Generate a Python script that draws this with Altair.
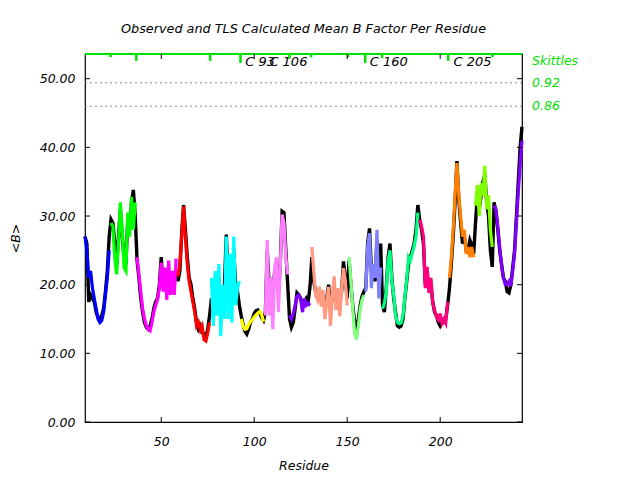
import altair as alt
import pandas as pd

FONT = "DejaVu Sans"

first_res = 9

observed = [
    27, 26, 17.5, 18.5, 18, 17.5, 16, 15.2, 15, 15.5, 16.5, 19, 22, 27,
    29.5, 29, 26, 23, 27, 31, 27, 24, 23, 29.5, 28, 32, 33.8, 30,
    23.5, 21, 18, 16, 14.5, 13.8, 13.5, 14, 15, 16.5, 17.5, 18, 20, 24, 19.5, 21, 19, 22, 20, 21, 20.5, 22,
    20.5, 22, 27.5, 31.6, 28, 24, 21, 20, 18, 16.5, 14.5, 13.5, 14, 13, 12.8, 12.5, 13.5, 15.5,
    18, 17, 20, 18, 21, 17, 19.5, 20, 27.3, 20, 23, 19, 25, 20, 19, 17,
    15.5, 14.2, 13.2, 12.8, 13.5, 14.5, 15, 15.8, 16.2, 16.3, 15.8, 15.2, 14.8,
    16, 25, 20, 21, 18, 22, 23, 18.5, 23, 30.7, 30.5, 25, 20,
    15, 13.8, 14.5, 16.5, 18.8, 18.5, 18, 17, 17.5, 18, 17.5, 19.7,
    24, 20.5, 19, 18.5, 18.5, 18, 18, 17, 18, 20, 17, 18, 19, 18, 19, 17.5, 19, 23.4, 21, 18,
    23.5, 20, 17, 14.5, 13.9, 15, 17, 18.3, 19,
    19.5, 26, 28.2, 22, 21.5, 20.5, 26.5, 20, 26,
    17, 16, 19.5, 24, 26, 21, 18, 16, 14, 13.8, 14, 15, 18, 20.5, 23, 24, 25, 26, 28, 31.6,
    29.4, 28, 26, 20, 21.5, 19.5, 20, 17.5, 16, 15.5, 14.5, 14, 14.5, 14.5, 15, 17,
    19.5, 23, 27, 32, 38, 32.5, 29, 26, 27, 25, 25, 26.5, 25.8, 24.5,
    29, 33, 31, 33, 35, 36, 32, 30, 25, 22.6,
    32, 30.5, 28, 25, 23, 21, 20.5, 19, 18.8, 20, 22.5, 25, 30, 35, 40, 43,
]

tls_calc = [
    27, 25, 21, 22, 19.5, 18, 16.5, 15, 14.5, 14.8, 16, 18.5, 21, 25,
    29, 28.5, 24, 21.5, 26, 32, 28, 22.5, 22, 30.5, 27, 32.8, 28, 32,
    24, 21.5, 19, 16.5, 15, 14, 13.5, 13.3, 14.5, 16, 17, 17.8, 19.5, 23.2, 19, 22.5, 17.8, 23.5, 18.5, 22, 18.5, 23.8,
    21.2, 23, 27, 31.4, 27, 23, 20.5, 19, 17.5, 16, 14, 14.5, 13.4, 14, 12, 11.8, 13, 14.5,
    21, 14, 22, 15.5, 23, 12.5, 20, 15, 27, 15, 24.5, 14.5, 27, 17, 19.5, 20.5,
    15, 14, 13.5, 13.6, 14.2, 14.6, 14.9, 15.3, 15.6, 15.9, 16.1, 15.6, 14.6,
    15.5, 26.5, 15.5, 21, 13.5, 22.5, 24, 16, 22.6, 30.2, 29, 24, 21.5,
    15.5, 15, 15.8, 17, 18.3, 18.5, 17.8, 16, 18, 17, 17.3, 17,
    25.5, 22, 18.5, 17.8, 19.7, 16.8, 19.2, 15, 17.5, 19.7, 14, 18.3, 21.2, 16.3, 19.5, 15.4, 19.2, 22.4, 20.5, 17,
    24, 20.5, 16.5, 13, 12, 14, 16.5, 17.8, 18.5,
    19, 25.5, 27.5, 19.5, 23, 21, 28, 18, 22.5,
    16.5, 17.3, 19, 23.5, 25, 20.5, 18.5, 15.5, 14.5, 14.3, 14.4, 15.5, 18.2, 20.7, 24, 23.5, 24.6, 25.6, 27, 30.5,
    29.5, 28.5, 27, 19.5, 22.6, 18.8, 21, 17.3, 16.3, 15.3, 14.9, 15.8, 14.4, 15, 14.4, 17.5,
    21, 24, 28, 33, 37.7, 33, 30, 27, 28, 24.5, 25.5, 24, 25.5, 24,
    31.5, 34.5, 30, 34.8, 33, 37.3, 31, 33, 28, 25.5,
    31.5, 31, 28.5, 25.5, 22.8, 21, 20, 20, 20.5, 19.8, 22, 24.5, 29, 33.5, 37.5, 41,
]

group_names = ["g01", "g02", "g03", "g04", "g05", "g06", "g07", "g08",
               "g09", "g10", "g11", "g12", "g13", "g14", "g15", "g16"]
group_starts = [9, 23, 37, 59, 77, 93, 106, 119, 131, 151, 160, 169, 189, 205, 219, 229]
group_colors = ["#0000ff", "#00ff00", "#ff00ff", "#ff0000", "#00ffff", "#ffff00",
                "#ff80ff", "#8000ff", "#ff9980", "#80ff80", "#8080ff", "#00ff80",
                "#ff0080", "#ff8000", "#80ff00", "#8000ff"]

rug_res = [22.7, 36.6, 58.6, 76.3, 92.6, 119, 130.6, 150.5, 159.7, 168.8, 188.9, 204.3, 228.1]
rug_depth = [0.45, 1.0, 0.15, 1.0, 1.3, 0.7, 0.45, 0.45, 1.3, 0.6, 0.15, 1.0, 0.45]

cys_res = [93, 106, 160, 205]
cys_labels = ["C 93", "C 106", "C 160", "C 205"]
cys_level = 52.5

ref_values = [49.4, 46.0]
side_labels = ["Skittles", "0.92", "0.86"]
side_values = [52.6, 49.4, 46.0]

x_ticks = [50, 100, 150, 200]
y_ticks = [0, 10, 20, 30, 40, 50]

x_min, x_max = 9, 244
y_min, y_max = 0, 53.6
W, H = 437, 368
GREEN = "#00e000"

residues = list(range(first_res, first_res + len(observed)))


def group_of(r):
    g = group_names[0]
    for name, s in zip(group_names, group_starts):
        if r >= s:
            g = name
    return g


obs_df = pd.DataFrame({"res": residues, "b": observed})
tls_df = pd.DataFrame({"res": residues, "b": tls_calc,
                       "grp": [group_of(r) for r in residues]})
rug_df = pd.DataFrame({"res": rug_res, "b": [y_max] * len(rug_res),
                       "b2": [y_max - d for d in rug_depth]})
cys_df = pd.DataFrame({"res": cys_res, "b": [cys_level] * len(cys_res), "t": cys_labels})
ref_df = pd.DataFrame({"b": ref_values})
side_df = pd.DataFrame({"b": side_values, "t": side_labels})
xt_df = pd.DataFrame({"res": x_ticks})
yt_df = pd.DataFrame({"b": y_ticks})

xscale = alt.Scale(domain=[x_min, x_max], nice=False, zero=False)
yscale = alt.Scale(domain=[y_min, y_max], nice=False, zero=False)

xaxis = alt.Axis(values=x_ticks, format="d", ticks=False, tickSize=0, domain=False, grid=False,
                 labelFont=FONT, labelFontSize=12.5, labelFontStyle="italic", labelColor="black",
                 labelPadding=13, title="Residue", titleFont=FONT, titleFontSize=12.5,
                 titleFontStyle="italic", titleFontWeight="normal", titleColor="black",
                 titlePadding=12)
yaxis = alt.Axis(values=y_ticks, format=".2f", ticks=False, tickSize=0, domain=False, grid=False,
                 labelFont=FONT, labelFontSize=12.5, labelFontStyle="italic", labelColor="black",
                 labelPadding=10, title="<B>", titleFont=FONT, titleFontSize=12.5,
                 titleFontStyle="italic", titleFontWeight="normal", titleColor="black",
                 titlePadding=17)

X = alt.X("res:Q", scale=xscale, axis=xaxis)
Y = alt.Y("b:Q", scale=yscale, axis=yaxis)

ref_lines = alt.Chart(ref_df).mark_rule(color="#888888", strokeDash=[2, 3], strokeWidth=1).encode(
    y=Y, x=alt.value(0), x2=alt.value(W))

obs_line = alt.Chart(obs_df).mark_line(color="black", strokeWidth=3.4).encode(x=X, y=Y)

tls_line = alt.Chart(tls_df).mark_line(strokeWidth=3.2).encode(
    x=X, y=Y,
    color=alt.Color("grp:N", scale=alt.Scale(domain=group_names, range=group_colors), legend=None),
    detail="grp:N")

top_border = alt.Chart(ref_df).mark_rule(color=GREEN, strokeWidth=2).encode(
    x=alt.value(0), x2=alt.value(W), y=alt.value(0))

rug = alt.Chart(rug_df).mark_rule(color=GREEN, strokeWidth=2.5).encode(
    x=X, y=Y, y2="b2:Q")

lt = alt.Chart(yt_df).mark_rule(color="black").encode(y=Y, x=alt.value(0), x2=alt.value(5))
rt = alt.Chart(yt_df).mark_rule(color="black").encode(y=Y, x=alt.value(W - 5), x2=alt.value(W))
bt = alt.Chart(xt_df).mark_rule(color="black").encode(x=X, y=alt.value(H), y2=alt.value(H - 5))
tt = alt.Chart(xt_df).mark_rule(color="black").encode(x=X, y=alt.value(0), y2=alt.value(5))

cys_text = alt.Chart(cys_df).mark_text(align="left", baseline="middle", dx=4, font=FONT,
                                       fontSize=13, fontStyle="italic", color="black").encode(
    x=X, y=Y, text="t:N")

side_text = alt.Chart(side_df).mark_text(align="left", baseline="middle", font=FONT,
                                         fontSize=12.5, fontStyle="italic", color=GREEN).encode(
    x=alt.value(W + 10), y=Y, text="t:N")

chart = alt.layer(
    ref_lines, obs_line, tls_line, rug, top_border, lt, rt, bt, tt, cys_text, side_text
).properties(
    width=W, height=H,
    title=alt.TitleParams("Observed and TLS Calculated Mean B Factor Per Residue", font=FONT,
                          fontSize=12.8, fontStyle="italic", fontWeight="normal", color="black",
                          anchor="middle", offset=17),
    autosize=alt.AutoSizeParams(type="none"),
    padding={"left": 77, "top": 46, "right": 110, "bottom": 58},
).configure_view(stroke="black", strokeWidth=1.2)

chart.save("out.html", embed_options={"renderer": "svg", "actions": False})
